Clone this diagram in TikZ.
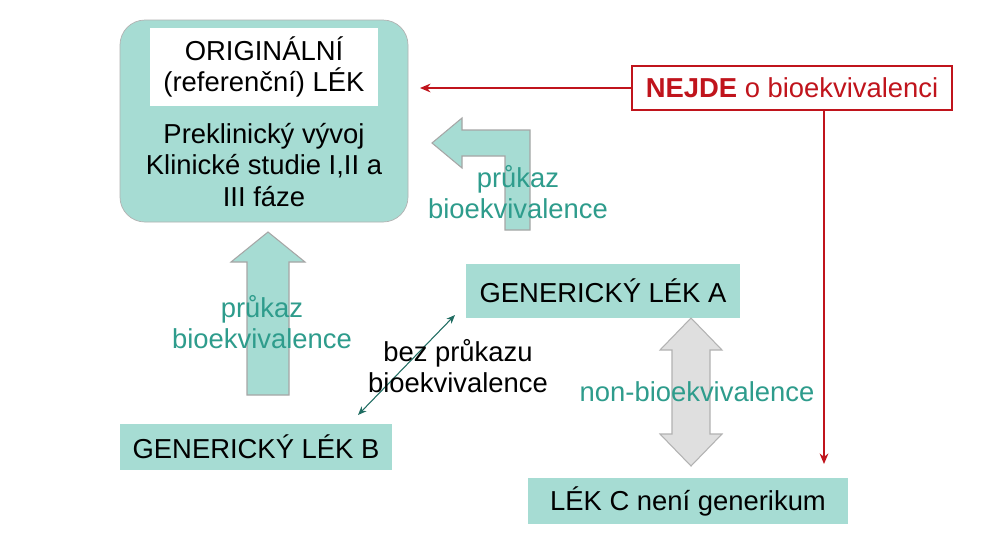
\documentclass[tikz,border=0pt]{standalone}
\usepackage{fontspec}
\setmainfont{Liberation Sans}
\usetikzlibrary{arrows.meta}
\definecolor{tealbox}{HTML}{A6DCD3}
\definecolor{tealtxt}{HTML}{2E9C8C}
\definecolor{redc}{HTML}{C0141C}
\begin{document}
\begin{tikzpicture}[x=0.02cm,y=-0.02cm,
  box/.style={fill=tealbox,inner sep=0pt,font=\fontsize{15.6}{18}\selectfont},
  lbl/.style={font=\fontsize{15.6}{18}\selectfont,align=center},
  blk/.style={fill=tealbox,draw=gray!70,line width=0.6pt}]
\useasboundingbox (0,0) rectangle (1004,542);
\fill[white] (0,0) rectangle (1004,542);
\node[box,rounded corners=0.5cm,minimum width=288*0.02cm,minimum height=202*0.02cm,draw=gray!60] (orig) at (264,121) {};
\node[fill=white,minimum width=228*0.02cm,minimum height=78*0.02cm,lbl] (origt) at (264,67) {ORIGINÁLNÍ\\(referenční) LÉK};
\node[lbl] (prek) at (264,165) {Preklinický vývoj\\Klinické studie I,II a\\III fáze};
\node[draw=redc,line width=0.8pt,fill=white,minimum width=320*0.02cm,minimum height=44*0.02cm,lbl,text=redc] (nejde) at (792,88) {\textbf{NEJDE} o bioekvivalenci};
\node[box,minimum width=274*0.02cm,minimum height=54*0.02cm] (a) at (603,291) {GENERICKÝ LÉK A};
\node[box,minimum width=272*0.02cm,minimum height=46*0.02cm] (b) at (256,447) {GENERICKÝ LÉK B};
\node[box,minimum width=320*0.02cm,minimum height=46*0.02cm] (c) at (688,501) {LÉK C není generikum};
\coordinate (ra) at (420,88);
\coordinate (rtop) at (824,110);
\coordinate (rbot) at (824,464);
\draw[redc,line width=0.8pt,-{Stealth[length=6pt,width=5pt]}] (nejde.west) -- (ra);
\draw[redc,line width=0.8pt,-{Stealth[length=6pt,width=5pt]}] (rtop) -- (rbot);
% bent arrow
\draw[blk] (505,230) -- (530,230) -- (530,130) -- (462,130) -- (462,118) -- (432,143) -- (462,168) -- (462,156) -- (505,156) -- cycle;
\node[lbl,text=tealtxt] (p1) at (518,192) {průkaz\\bioekvivalence};
% up arrow
\draw[blk] (247,395) -- (289,395) -- (289,262) -- (305,262) -- (268,232) -- (231,262) -- (247,262) -- cycle;
\node[lbl,text=tealtxt] (p2) at (262,322) {průkaz\\bioekvivalence};
% gray double arrow
\draw[fill=gray!25,draw=gray!60,line width=0.6pt] (691,318) -- (722,350) -- (710,350) -- (710,434) -- (722,434) -- (691,466) -- (660,434) -- (672,434) -- (672,350) -- (660,350) -- cycle;
\node[lbl,text=tealtxt] (nb) at (697,392) {non-bioekvivalence};
% thin double arrow
\coordinate (t1) at (358,415);
\coordinate (t2) at (455,315);
\draw[tealtxt!70!black,line width=0.6pt,{Stealth[length=5pt,width=4pt]}-{Stealth[length=5pt,width=4pt]}] (t1) -- (t2);
\node[lbl] (bez) at (458,366) {bez průkazu\\bioekvivalence};
\end{tikzpicture}
\end{document}
